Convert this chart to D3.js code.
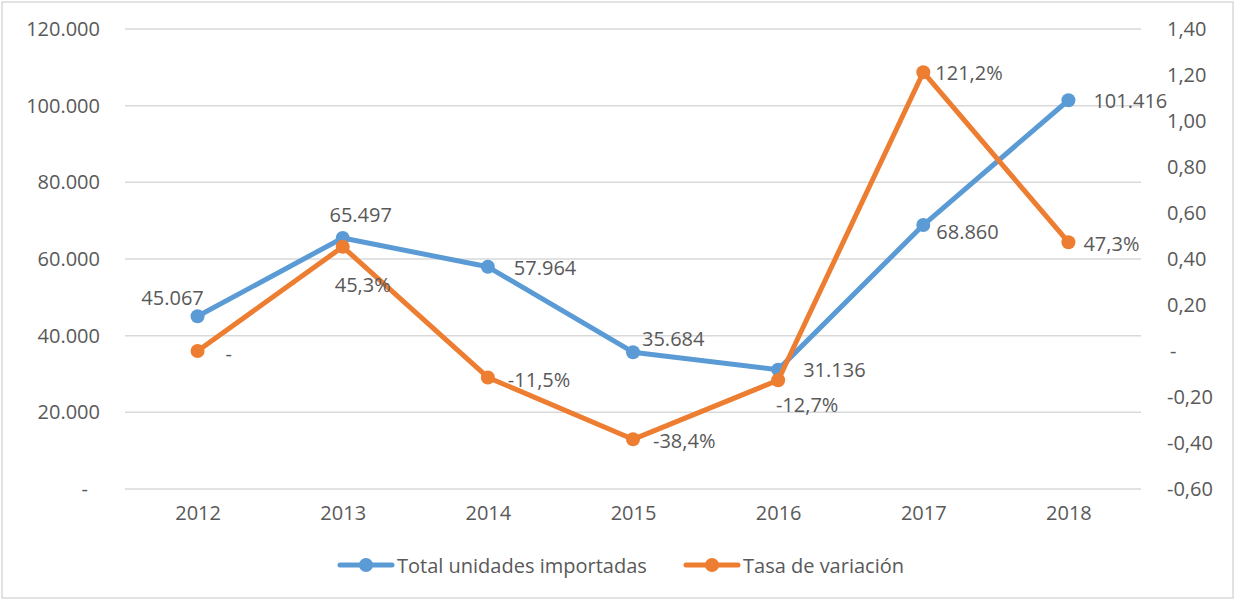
<!DOCTYPE html>
<html><head><meta charset="utf-8">
<script src="https://cdn.jsdelivr.net/npm/d3@7"></script>
<style>body{margin:0;background:#fff}svg{display:block}text{font-family:"Open Sans",sans-serif;fill:#595959}</style>
</head><body><svg id="c" width="1236" height="600"></svg>
<script>
const years = ["2012","2013","2014","2015","2016","2017","2018"];
const units = [45067, 65497, 57964, 35684, 31136, 68860, 101416];
const rates = [0, 0.453, -0.115, -0.384, -0.127, 1.212, 0.473];
const leftTicks = [0, 20000, 40000, 60000, 80000, 100000, 120000];
const rightTicks = [-0.6, -0.4, -0.2, 0, 0.2, 0.4, 0.6, 0.8, 1.0, 1.2, 1.4];
const seriesNames = ["Total unidades importadas", "Tasa de variación"];

// label placement: [dx, dy, anchor]
const unitLabelPos = [[-25,-19,"middle"],[18,-23,"middle"],[26,1,"start"],[9,-14,"start"],[25,0,"start"],[13,6,"start"],[25,0,"start"]];
const rateLabelPos = [[28,2,"start"],[20,38,"middle"],[20,2,"start"],[20,1,"start"],[29,24,"middle"],[12,0,"start"],[15,1,"start"]];

const BLUE="#5B9BD5", ORANGE="#ED7D31", GRID="#D9D9D9";
const svg = d3.select("#c");
const L=125, R=1141, T=29, B=489;
const x = d3.scalePoint().domain(years).range([L,R]).padding(0.5);
const yL = d3.scaleLinear().domain([0,120000]).range([B,T]);
const yR = d3.scaleLinear().domain([-0.6,1.4]).range([B,T]);

svg.append("rect").attr("x",2).attr("y",2).attr("width",1231).attr("height",596)
  .attr("fill","none").attr("stroke",GRID).attr("stroke-width",1.5);

const fmtL = v => v===0 ? "-" : d3.format(",")(v).replace(/,/g,".");
const fmtR = v => Math.abs(v)<1e-9 ? "-" : d3.format(".2f")(v).replace(".",",").replace("−","-");

// gridlines
svg.append("g").selectAll("line").data(leftTicks).join("line")
  .attr("x1",L).attr("x2",R).attr("y1",d=>yL(d)).attr("y2",d=>yL(d))
  .attr("stroke",GRID).attr("stroke-width",1.5);

// left axis
const gl = svg.append("g").attr("transform",`translate(${L},0)`)
  .call(d3.axisLeft(yL).tickValues(leftTicks).tickFormat(fmtL).tickSize(0).tickPadding(25));
gl.select(".domain").remove();
gl.selectAll("text").style("font-size","20px").attr("fill","#595959")
  .attr("dx", d=> d===0 ? -12 : 0);

// right axis
const gr = svg.append("g").attr("transform",`translate(${R},0)`)
  .call(d3.axisRight(yR).tickValues(rightTicks).tickFormat(fmtR).tickSize(0).tickPadding(26));
gr.select(".domain").remove();
gr.selectAll("text").style("font-size","20px").attr("fill","#595959")
  .attr("dx", d=> Math.abs(d)<1e-9 ? 3 : 0);

// x axis
const gx = svg.append("g").attr("transform",`translate(0,${B})`)
  .call(d3.axisBottom(x).tickSize(0).tickPadding(17));
gx.select(".domain").remove();
gx.selectAll("text").style("font-size","20px").attr("fill","#595959");

// lines
const lineU = d3.line().x((d,i)=>x(years[i])).y(d=>yL(d));
const lineR = d3.line().x((d,i)=>x(years[i])).y(d=>yR(d));
svg.append("path").datum(units).attr("d",lineU).attr("fill","none").attr("stroke",BLUE)
  .attr("stroke-width",5).attr("stroke-linejoin","round").attr("stroke-linecap","round");
svg.append("g").selectAll("circle").data(units).join("circle")
  .attr("cx",(d,i)=>x(years[i])).attr("cy",d=>yL(d)).attr("r",7).attr("fill",BLUE);
svg.append("path").datum(rates).attr("d",lineR).attr("fill","none").attr("stroke",ORANGE)
  .attr("stroke-width",5).attr("stroke-linejoin","round").attr("stroke-linecap","round");
svg.append("g").selectAll("circle").data(rates).join("circle")
  .attr("cx",(d,i)=>x(years[i])).attr("cy",d=>yR(d)).attr("r",7).attr("fill",ORANGE);

// data labels
const fmtU = v => d3.format(",")(v).replace(/,/g,".");
const fmtP = v => v===0 ? "-" : d3.format(".1f")(v*100).replace(".",",").replace("−","-")+"%";
svg.append("g").selectAll("text").data(units).join("text")
  .attr("x",(d,i)=>x(years[i])+unitLabelPos[i][0]).attr("y",(d,i)=>yL(d)+unitLabelPos[i][1])
  .attr("text-anchor",(d,i)=>unitLabelPos[i][2]).attr("dominant-baseline","central")
  .style("font-size","20px").text(fmtU);
svg.append("g").selectAll("text").data(rates).join("text")
  .attr("x",(d,i)=>x(years[i])+rateLabelPos[i][0]).attr("y",(d,i)=>yR(d)+rateLabelPos[i][1])
  .attr("text-anchor",(d,i)=>rateLabelPos[i][2]).attr("dominant-baseline","central")
  .style("font-size","20px").text(fmtP);

// legend
const legend = [{name:seriesNames[0],color:BLUE,x:340},{name:seriesNames[1],color:ORANGE,x:686}];
const lg = svg.append("g").selectAll("g").data(legend).join("g")
  .attr("transform",d=>`translate(${d.x},565)`);
lg.append("line").attr("x1",0).attr("x2",52).attr("y1",0).attr("y2",0)
  .attr("stroke",d=>d.color).attr("stroke-width",5).attr("stroke-linecap","round");
lg.append("circle").attr("cx",26).attr("cy",0).attr("r",7).attr("fill",d=>d.color);
lg.append("text").attr("x",57).attr("y",0).attr("dominant-baseline","central")
  .style("font-size","20px").text(d=>d.name);
</script></body></html>
